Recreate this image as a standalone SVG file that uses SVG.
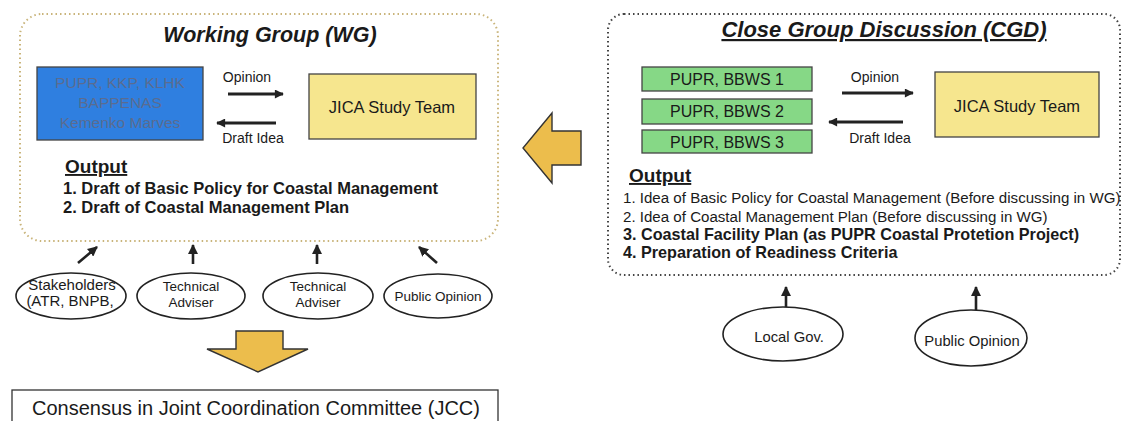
<svg xmlns="http://www.w3.org/2000/svg" width="1131" height="421" viewBox="0 0 1131 421">
<defs>
<style>
text{font-family:"Liberation Sans",Arial,sans-serif;fill:#1a1a1a}
.title{font-size:21.5px;font-weight:bold;font-style:italic;text-anchor:middle}
.lbl{font-size:14px;text-anchor:middle}
.box{stroke:#444;stroke-width:1.3}
.ell{fill:#fff;stroke:#222;stroke-width:1.6}
.etx{font-size:13.5px;text-anchor:middle}
.flow{stroke:#222;stroke-width:3;fill:none}
.small{stroke:#222;stroke-width:2.6;fill:none}
.big{fill:#ecbd4c;stroke:#333;stroke-width:1.4;stroke-linejoin:miter}
.out{font-size:19px;font-weight:bold;text-decoration:underline}
.wgi{font-size:16.5px;font-weight:bold}
.blu{font-size:15.5px;text-anchor:middle;fill:#5a6c90}
</style>
<marker id="ah" viewBox="0 0 10 10" refX="9" refY="5" markerWidth="11" markerHeight="9" markerUnits="userSpaceOnUse" orient="auto"><path d="M0,0 L10,5 L0,10 z" fill="#222"/></marker>
<marker id="as" viewBox="0 0 10 10" refX="9" refY="5" markerWidth="10" markerHeight="10" markerUnits="userSpaceOnUse" orient="auto"><path d="M0,0 L10,5 L0,10 z" fill="#222"/></marker>
</defs>
<rect width="1131" height="421" fill="#fff"/>

<g id="wg">
<rect x="20" y="14" width="478" height="227" rx="22" fill="none" stroke="#c9b47a" stroke-width="2" stroke-dasharray="1.5 3"/>
<text class="title" x="270" y="42">Working Group (WG)</text>
<text class="out" x="65" y="173">Output</text>
<text class="wgi" x="63" y="194">1. Draft of Basic Policy for Coastal Management</text>
<text class="wgi" x="63" y="213">2. Draft of Coastal Management Plan</text>
</g>
<g id="wg-members">
<rect class="box" x="37" y="67" width="166" height="73" fill="#2f7fe0"/>
<text class="blu" x="120" y="88">PUPR, KKP, KLHK</text>
<text class="blu" x="120" y="108">BAPPENAS</text>
<text class="blu" x="120" y="128">Kemenko Marves</text>
</g>
<g id="wg-jica">
<rect class="box" x="309" y="74" width="167" height="65" fill="#f6e68e"/>
<text x="392" y="113" style="font-size:16.5px;text-anchor:middle">JICA Study Team</text>
</g>
<g id="wg-labels">
<text class="lbl" x="247" y="82">Opinion</text>
<text class="lbl" x="253" y="143">Draft Idea</text>
</g>

<g id="cgd">
<rect x="608" y="14" width="512" height="261" rx="16" fill="none" stroke="#444" stroke-width="2" stroke-dasharray="1.5 3"/>
<text class="title" x="884" y="37" style="text-decoration:underline;font-size:22px">Close Group Discussion (CGD)</text>
<text class="out" x="629" y="182">Output</text>
<text x="623" y="203" style="font-size:15.1px">1. Idea of Basic Policy for Coastal Management  (Before discussing in WG)</text>
<text x="623" y="222" style="font-size:15.1px">2. Idea of Coastal Management  Plan (Before discussing in WG)</text>
<text x="623" y="240" style="font-size:16.2px;font-weight:bold">3. Coastal Facility Plan (as PUPR Coastal Protetion Project)</text>
<text x="623" y="258" style="font-size:16.2px;font-weight:bold">4. Preparation of Readiness Criteria</text>
</g>
<g id="cgd-bbws1">
<rect class="box" x="642" y="67" width="170" height="24" fill="#86d886"/>
<text x="727" y="85" style="font-size:16px;text-anchor:middle">PUPR, BBWS 1</text>
</g>
<g id="cgd-bbws2">
<rect class="box" x="642" y="99" width="170" height="25" fill="#86d886"/>
<text x="727" y="117" style="font-size:16px;text-anchor:middle">PUPR, BBWS 2</text>
</g>
<g id="cgd-bbws3">
<rect class="box" x="642" y="130" width="170" height="23" fill="#86d886"/>
<text x="727" y="148" style="font-size:16px;text-anchor:middle">PUPR, BBWS 3</text>
</g>
<g id="cgd-jica">
<rect class="box" x="935" y="72" width="164" height="65" fill="#f6e68e"/>
<text x="1017" y="112" style="font-size:16.5px;text-anchor:middle">JICA Study Team</text>
</g>
<g id="cgd-labels">
<text class="lbl" x="875" y="82">Opinion</text>
<text class="lbl" x="880" y="143">Draft Idea</text>
</g>

<g id="stakeholders">
<ellipse class="ell" cx="71" cy="296" rx="55" ry="23"/>
<text class="etx" x="72" y="290" style="font-size:15px">Stakeholders</text>
<text class="etx" x="70" y="306" style="font-size:15px">(ATR, BNPB,</text>
</g>
<g id="tech1">
<ellipse class="ell" cx="191" cy="296" rx="54" ry="23"/>
<text class="etx" x="191" y="291">Technical</text>
<text class="etx" x="191" y="307">Adviser</text>
</g>
<g id="tech2">
<ellipse class="ell" cx="318" cy="296" rx="55" ry="23"/>
<text class="etx" x="318" y="291">Technical</text>
<text class="etx" x="318" y="307">Adviser</text>
</g>
<g id="public1">
<ellipse class="ell" cx="438" cy="296" rx="54" ry="22"/>
<text class="etx" x="438" y="301">Public Opinion</text>
</g>
<g id="localgov">
<ellipse class="ell" cx="783" cy="334" rx="60" ry="27"/>
<text class="etx" x="789" y="342" style="font-size:14.8px">Local Gov.</text>
</g>
<g id="public2">
<ellipse class="ell" cx="971" cy="338" rx="56" ry="28"/>
<text class="etx" x="972" y="346" style="font-size:14.8px">Public Opinion</text>
</g>

<g id="jcc">
<rect x="12" y="390" width="486" height="40" fill="#fff" stroke="#333" stroke-width="1.3"/>
<text x="32" y="415" style="font-size:20px">Consensus in Joint Coordination Committee (JCC)</text>
</g>

<g id="connectors">
<line class="flow" x1="228" y1="94" x2="283" y2="94" marker-end="url(#ah)"/>
<line class="flow" x1="276" y1="123" x2="217" y2="123" marker-end="url(#ah)"/>
<line class="flow" x1="842" y1="93" x2="913" y2="93" marker-end="url(#ah)"/>
<line class="flow" x1="903" y1="122" x2="829" y2="122" marker-end="url(#ah)"/>
<line class="small" x1="78" y1="263" x2="97" y2="247" marker-end="url(#as)"/>
<line class="small" x1="193" y1="264" x2="193" y2="245" marker-end="url(#as)"/>
<line class="small" x1="317" y1="264" x2="317" y2="245" marker-end="url(#as)"/>
<line class="small" x1="437" y1="263" x2="419" y2="247" marker-end="url(#as)"/>
<line class="small" x1="786" y1="307" x2="786" y2="287" marker-end="url(#as)"/>
<line class="small" x1="976" y1="310" x2="976" y2="287" marker-end="url(#as)"/>
<path class="big" d="M581,131 L552,131 L552,113 L523,148 L552,183 L552,165 L581,165 Z"/>
<path class="big" d="M236,331 L283,331 L283,349 L308,349 L258,372 L207,349 L236,349 Z"/>
</g>
</svg>
